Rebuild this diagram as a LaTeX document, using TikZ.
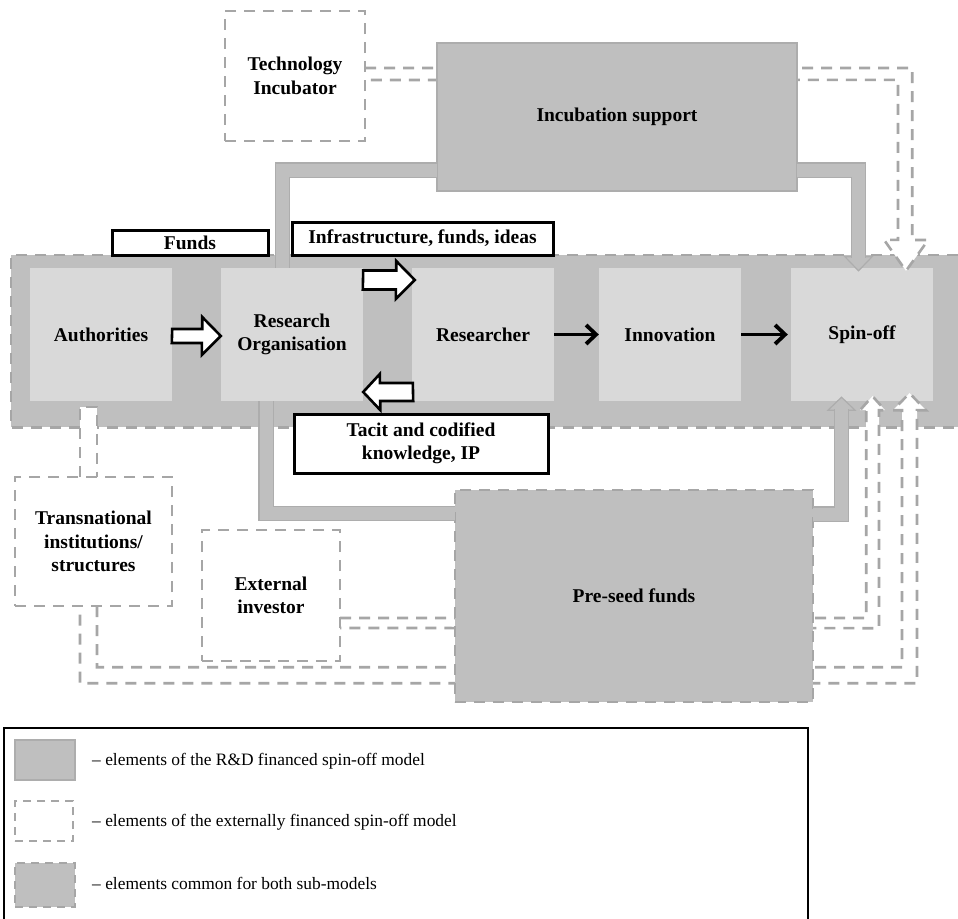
\documentclass[tikz,border=0pt]{standalone}
\usepackage{fontspec}
\setmainfont{Liberation Serif}
\usetikzlibrary{calc,arrows.meta}
\definecolor{bandgray}{HTML}{BFBFBF}
\definecolor{innergray}{HTML}{D9D9D9}
\definecolor{dashgray}{HTML}{A6A6A6}
\definecolor{edgegray}{HTML}{ADADAD}
\newcommand\lblfont{\fontsize{19.5}{23.5}\selectfont\bfseries}
\newcommand\legfont{\fontsize{17.4}{20}\selectfont}
\tikzset{
  dashln/.style={draw=dashgray, line width=2.6pt, dash pattern=on 11pt off 8pt, line join=miter},
  dashbox/.style={dashln, fill=white},
  innerbox/.style={fill=innergray, minimum width=142pt, minimum height=133pt, inner sep=0pt, align=center, font=\lblfont},
  outerbox/.style={inner sep=0pt, align=center, font=\lblfont},
  labelbox/.style={draw=black, fill=white, line width=3pt, inner sep=0pt, align=center, font=\lblfont},
  blk/.style={draw=black, fill=white, line width=2.6pt, line join=miter},
  blarrow/.style={line width=3.8pt, -{Straight Barb[length=10pt,width=19pt]}},
  pipe/.style={draw=edgegray, line width=1.2pt, double=bandgray, double distance=13pt, line join=miter},
  pipehead/.style={fill=bandgray, draw=edgegray, line width=1.2pt, line join=miter},
  legdash/.style={draw=dashgray, line width=2.2pt, dash pattern=on 8pt off 6pt},
  legtext/.style={anchor=west, inner sep=0pt, font=\legfont}
}
\begin{document}
\begin{tikzpicture}[x=1pt,y=-1pt]
\useasboundingbox[fill=white] (0,0) rectangle (958,918);

% main band
\node[fill=bandgray, minimum width=947pt, minimum height=172pt, inner sep=0pt, anchor=north west] (band) at (11,255) {};
\node[innerbox] (auth) at (101,334.5) {Authorities};
\node[innerbox] (ro) at (292,334.5) {Research\\Organisation};
\node[innerbox] (res) at (483,334.5) {Researcher};
\node[innerbox] (inn) at (670,334.5) {Innovation};
\node[innerbox] (spin) at (862,334.5) {Spin-off};
\draw[dashln] (band.north east) -- (band.north west) -- (band.south west) -- (band.south east);

% outer nodes (positions)
\node[outerbox, minimum width=140pt, minimum height=130pt] (tech) at (295,76) {Technology\\Incubator};
\node[outerbox, minimum width=157pt, minimum height=129pt] (trans) at (93.5,541.5) {Transnational\\institutions/\\structures};
\node[outerbox, minimum width=138pt, minimum height=131pt] (ext) at (271,595.5) {External\\investor};

% dashed (externally financed) connectors
\filldraw[dashbox] ($(tech.east)+(0,-8)$) -- ++(547,0) -- ++(0,172) -- ++(16,0) -- ($(spin.north)+(44,3)$) -- ++(-22,-31) -- ++(14,0) -- ++(0,-160) -- ($(tech.east)+(0,4)$);
\filldraw[dashbox] ($(ext.east)+(0,22.5)$) -- ++(526,0) -- ++(0,-208) -- ++(-6,0) -- ($(spin.south)+(10.5,-5)$) -- ++(12.5,14) -- ++(-6,0) -- ++(0,218) -- ($(ext.east)+(0,32.5)$);
\filldraw[dashbox] ($(trans.south)+(3.5,0)$) -- ++(0,61) -- ++(805,0) -- ++(0,-257) -- ++(-9,0) -- ($(spin.south)+(47.5,-8)$) -- ++(16.5,17) -- ++(-9,0) -- ++(0,273) -- ++(-837,0) -- ++(0,-77);
\filldraw[dashbox] ($(trans.north)+(-13.5,0)$) -- ++(0,-70) -- ++(17,0) -- ++(0,70);

% big gray boxes
\node[outerbox, fill=bandgray, draw=edgegray, line width=1.5pt, minimum width=360pt, minimum height=148pt] (inc) at (617,117) {Incubation support};
\node[outerbox, fill=bandgray, dashln, minimum width=358pt, minimum height=212pt] (pre) at (634,596) {Pre-seed funds};

% gray pipes (R&D financed connectors)
\draw[pipe] ($(inc.west)+(1,53)$) -| ($(ro.north)+(-9.5,0)$);
\filldraw[pipehead] ($(spin.north)+(-17,-11)$) -- ($(spin.north)+(10,-11)$) -- ($(spin.north)+(-3.5,3)$) -- cycle;
\draw[pipe] ($(inc.east)+(-1,53)$) -| ($(spin.north)+(-3.5,-10)$);
\draw[pipe] ($(ro.south)+(-26,0)$) |- ($(pre.west)+(1,-82.5)$);
\filldraw[pipehead] ($(spin.south)+(-34,9)$) -- ($(spin.south)+(-7,9)$) -- ($(spin.south)+(-20.5,-4)$) -- cycle;
\draw[pipe] ($(pre.east)+(-1,-82)$) -| ($(spin.south)+(-20.5,8)$);

% dashed white boxes on top
\node[outerbox, dashbox, minimum width=140pt, minimum height=130pt] at (tech) {Technology\\Incubator};
\node[outerbox, dashbox, minimum width=157pt, minimum height=129pt] at (trans) {Transnational\\institutions/\\structures};
\node[outerbox, dashbox, minimum width=138pt, minimum height=131pt] at (ext) {External\\investor};

% label boxes
\node[labelbox, minimum width=156pt, minimum height=25pt] (funds) at (190,242.5) {Funds};
\node[labelbox, minimum width=261pt, minimum height=33pt] (infra) at (422.5,238.5) {Infrastructure, funds, ideas};
\node[labelbox, minimum width=254pt, minimum height=59pt] (tacit) at (421,443.5) {Tacit and codified\\knowledge, IP};

% block arrows
\draw[blk] ($(auth.east)+(0,-5.5)$) -- ++(30,0) -- ++(0,-12) -- ($(ro.west)+(0,1.5)$) -- ++(-19,19) -- ++(0,-12) -- ++(-30,0) -- cycle;
\draw[blk] ($(ro.east)+(0,-64)$) -- ++(33,0) -- ++(0,-9.5) -- ($(res.west)+(3,-54.5)$) -- ++(-19,19) -- ++(0,-9.5) -- ++(-33,0) -- cycle;
\draw[blk] ($(res.west)+(1,48.5)$) -- ++(-33,0) -- ++(0,-9) -- ($(ro.east)+(0,57.5)$) -- ++(17,18) -- ++(0,-9) -- ++(33,0) -- cycle;

% black arrows
\draw[blarrow] (res.east) -- (inn.west);
\draw[blarrow] (inn.east) -- ($(spin.west)+(-3,0)$);

% legend
\node[inner sep=0pt, minimum width=804pt, minimum height=200pt, anchor=north west] (legend) at (4,728) {};
\draw[line width=2pt] (legend.south west) -- (legend.north west) -- (legend.north east) -- (legend.south east);
\node[fill=bandgray, draw=edgegray, line width=2pt, minimum width=60pt, minimum height=40pt, inner sep=0pt] (leg1) at (45,760) {};
\node[legdash, fill=white, minimum width=58pt, minimum height=40pt, inner sep=0pt] (leg2) at (44,821) {};
\node[legdash, fill=bandgray, minimum width=60pt, minimum height=44pt, inner sep=0pt] (leg3) at (45,885) {};
\node[legtext] (lt1) at (92,761) {– elements of the R\&D financed spin-off model};
\node[legtext] (lt2) at (92,822) {– elements of the externally financed spin-off model};
\node[legtext] (lt3) at (92,883) {– elements common for both sub-models};
\end{tikzpicture}
\end{document}
